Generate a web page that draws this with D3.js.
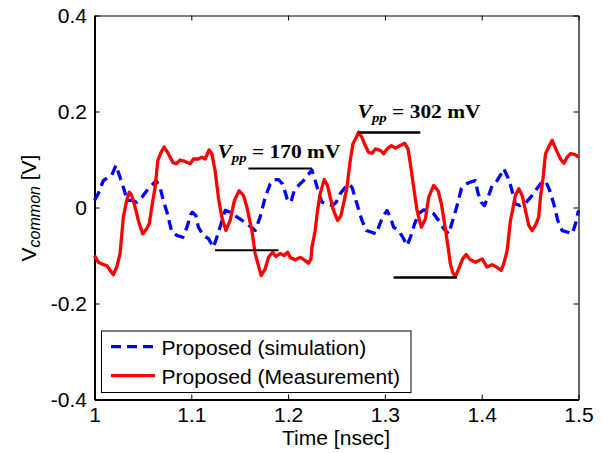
<!DOCTYPE html>
<html>
<head>
<meta charset="utf-8">
<script src="https://cdn.jsdelivr.net/npm/d3@7"></script>
<style>
  body { margin: 0; background: #fff; }
  svg { display: block; }
</style>
</head>
<body>
<svg id="chart" width="603" height="453"></svg>
<script>
// Common-mode voltage, simulated waveform (time in ns, voltage in V)
const simTime = [1.0000,1.0039,1.0091,1.0143,1.0178,1.0222,1.0264,1.0298,1.0339,1.0385,
  1.0436,1.0488,1.0540,1.0592,1.0636,1.0677,1.0711,1.0753,1.0798,1.0850,
  1.0912,1.0957,1.0993,1.1011,1.1047,1.1073,1.1125,1.1177,1.1229,1.1264,
  1.1308,1.1350,1.1401,1.1453,1.1505,1.1574,1.1618,1.1660,1.1711,1.1763,
  1.1815,1.1859,1.1901,1.1942,1.1965,1.1994,1.2029,1.2063,1.2108,1.2159,
  1.2201,1.2246,1.2280,1.2325,1.2350,1.2401,1.2453,1.2497,1.2539,1.2591,
  1.2625,1.2660,1.2711,1.2763,1.2808,1.2856,1.2911,1.2935,1.2976,1.3022,
  1.3056,1.3090,1.3142,1.3193,1.3229,1.3263,1.3307,1.3348,1.3400,1.3452,
  1.3504,1.3555,1.3607,1.3659,1.3700,1.3746,1.3790,1.3831,1.3883,1.3935,
  1.3959,1.3994,1.4028,1.4072,1.4108,1.4159,1.4201,1.4228,1.4269,1.4304,
  1.4348,1.4393,1.4452,1.4504,1.4555,1.4607,1.4659,1.4703,1.4744,1.4786,
  1.4831,1.4883,1.4935,1.4969,1.5000];
const simVolt = [0.015,0.029,0.056,0.063,0.067,0.088,0.063,0.042,0.015,0.015,
  0.011,0.021,0.035,0.046,0.056,0.042,0.015,-0.013,-0.051,-0.058,
  -0.062,-0.040,-0.015,-0.010,-0.017,-0.041,-0.058,-0.065,-0.083,-0.062,
  -0.034,-0.006,-0.010,-0.017,-0.024,-0.034,-0.041,-0.048,-0.020,0.021,
  0.049,0.058,0.058,0.049,0.035,0.015,0.011,0.035,0.046,0.056,
  0.067,0.078,0.056,0.025,0.011,0.008,0.004,0.011,0.029,0.042,
  0.049,0.042,0.008,-0.027,-0.048,-0.051,-0.055,-0.041,-0.020,-0.006,
  -0.020,-0.041,-0.048,-0.065,-0.079,-0.062,-0.034,-0.013,-0.005,-0.006,
  -0.013,-0.027,-0.044,-0.055,-0.027,0.004,0.039,0.048,0.053,0.056,
  0.032,0.011,0.004,0.025,0.046,0.056,0.070,0.081,0.063,0.042,
  0.008,0.004,0.009,0.021,0.035,0.049,0.056,0.035,0.008,-0.027,
  -0.048,-0.051,-0.055,-0.034,-0.006];

// Common-mode voltage, measured waveform
const measTime = [1.0000,1.0039,1.0091,1.0126,1.0194,1.0230,1.0264,1.0298,1.0333,1.0360,
  1.0385,1.0419,1.0453,1.0498,1.0540,1.0567,1.0592,1.0626,1.0654,1.0688,
  1.0719,1.0763,1.0809,1.0843,1.0884,1.0936,1.0988,1.1022,1.1073,1.1109,
  1.1143,1.1184,1.1212,1.1246,1.1280,1.1315,1.1357,1.1401,1.1446,1.1494,
  1.1539,1.1574,1.1626,1.1660,1.1688,1.1722,1.1763,1.1797,1.1839,1.1874,
  1.1918,1.1960,1.1994,1.2022,1.2073,1.2125,1.2166,1.2211,1.2236,1.2246,
  1.2280,1.2304,1.2332,1.2373,1.2407,1.2435,1.2469,1.2511,1.2546,1.2573,
  1.2608,1.2642,1.2670,1.2704,1.2728,1.2763,1.2797,1.2831,1.2867,1.2901,
  1.2952,1.2987,1.3022,1.3066,1.3108,1.3159,1.3204,1.3239,1.3263,1.3297,
  1.3332,1.3376,1.3418,1.3452,1.3504,1.3549,1.3583,1.3617,1.3653,1.3676,
  1.3700,1.3728,1.3762,1.3803,1.3839,1.3883,1.3935,1.4004,1.4056,1.4108,
  1.4152,1.4201,1.4228,1.4263,1.4297,1.4325,1.4348,1.4383,1.4418,1.4452,
  1.4486,1.4521,1.4555,1.4589,1.4607,1.4635,1.4659,1.4693,1.4728,1.4772,
  1.4814,1.4848,1.4883,1.4917,1.4969,1.5000];
const measVolt = [-0.100,-0.114,-0.119,-0.121,-0.140,-0.124,-0.096,-0.020,0.015,0.032,
  0.025,0.001,-0.027,-0.055,-0.044,-0.033,0.001,0.042,0.098,0.115,
  0.126,0.112,0.094,0.091,0.099,0.096,0.091,0.101,0.101,0.105,
  0.101,0.120,0.112,0.077,0.021,-0.020,-0.048,-0.027,0.015,0.035,
  0.025,0.001,-0.048,-0.096,-0.117,-0.142,-0.128,-0.104,-0.093,-0.102,
  -0.096,-0.100,-0.093,-0.104,-0.109,-0.104,-0.109,-0.116,-0.107,-0.083,
  -0.048,-0.006,0.029,0.058,0.046,0.021,-0.006,-0.027,-0.017,0.008,
  0.042,0.098,0.133,0.146,0.157,0.146,0.129,0.115,0.113,0.122,
  0.119,0.112,0.122,0.129,0.124,0.129,0.134,0.122,0.091,0.042,
  -0.006,-0.041,-0.024,0.021,0.046,0.035,0.008,-0.034,-0.083,-0.117,
  -0.135,-0.144,-0.128,-0.107,-0.098,-0.109,-0.114,-0.107,-0.124,-0.119,
  -0.124,-0.131,-0.117,-0.090,-0.027,0.001,0.025,0.039,0.025,-0.006,
  -0.037,-0.048,-0.037,-0.020,0.021,0.063,0.112,0.126,0.140,0.119,
  0.101,0.092,0.105,0.112,0.110,0.105];

const seriesNames = ["Proposed (simulation)", "Proposed (Measurement)"];
const xTickValues = [1, 1.1, 1.2, 1.3, 1.4, 1.5];
const xTickLabels = ["1", "1.1", "1.2", "1.3", "1.4", "1.5"];
const yTickValues = [-0.4, -0.2, 0, 0.2, 0.4];
const yTickLabels = ["-0.4", "-0.2", "0", "0.2", "0.4"];

// Peak-to-peak markers (mV) and the level of the upper marker (V)
const vppValues = [170, 302];
const vppUpper = [0.081, 0.156];
const vppUpperSpan = [[1.159, 1.2246], [1.2728, 1.3366]];
const vppLowerSpan = [[1.1246, 1.1901], [1.309, 1.3746]];
const vppLabelAt = [[1.127, 0.1035], [1.2718, 0.186]];

const svg = d3.select("#chart");
const L = 94.5, R = 578.5, T = 15.5, B = 399.5;
const SX = 1.08;           // slight horizontal stretch of sans text
const sans = "'Liberation Sans', Arial, Helvetica, sans-serif";
const serif = "'Liberation Serif', 'Times New Roman', serif";

const x = d3.scaleLinear().domain([1, 1.5]).range([L, R]);
const y = d3.scaleLinear().domain([-0.4, 0.4]).range([B, T]);

// Axes with inward ticks on all four sides
const gBottom = svg.append("g").attr("transform", `translate(0,${B})`)
  .call(d3.axisBottom(x).tickValues(xTickValues)
    .tickFormat((d, i) => xTickLabels[i]).tickSizeInner(-5).tickSizeOuter(0));
const gLeft = svg.append("g").attr("transform", `translate(${L},0)`)
  .call(d3.axisLeft(y).tickValues(yTickValues)
    .tickFormat((d, i) => yTickLabels[i]).tickSizeInner(-5).tickSizeOuter(0).tickPadding(7));
const gTop = svg.append("g").attr("transform", `translate(0,${T})`)
  .call(d3.axisTop(x).tickValues(xTickValues).tickFormat("").tickSizeInner(-5).tickSizeOuter(0));
const gRight = svg.append("g").attr("transform", `translate(${R},0)`)
  .call(d3.axisRight(y).tickValues(yTickValues).tickFormat("").tickSizeInner(-5).tickSizeOuter(0));

[gBottom, gLeft, gTop, gRight].forEach(g => {
  g.selectAll("line").attr("stroke", "#000").attr("stroke-width", 1);
  g.select(".domain").attr("stroke", "#000");
});
gBottom.select(".domain").attr("stroke-width", 2);
gLeft.select(".domain").attr("stroke-width", 2);
gTop.select(".domain").attr("stroke-width", 1);
gRight.select(".domain").attr("stroke-width", 1.2);

gBottom.selectAll("text")
  .attr("font-family", sans).attr("font-size", 19.5).attr("fill", "#000")
  .attr("y", 23).attr("dy", null)
  .attr("transform", `scale(${SX},1)`);
gLeft.selectAll("text")
  .attr("font-family", sans).attr("font-size", 19.5).attr("fill", "#000")
  .attr("dy", "0.36em")
  .attr("transform", `scale(${SX},1)`);

// Waveforms
const line = d3.line().x(d => x(d[0])).y(d => y(d[1]));
const simData = d3.zip(simTime, simVolt);
const measData = d3.zip(measTime, measVolt);

svg.append("path").datum(simData)
  .attr("d", line).attr("fill", "none")
  .attr("stroke", "#0000ff").attr("stroke-width", 3.3)
  .attr("stroke-dasharray", "10,6").attr("stroke-linejoin", "round");
svg.append("path").datum(measData)
  .attr("d", line).attr("fill", "none")
  .attr("stroke", "#ff0000").attr("stroke-width", 3.3)
  .attr("stroke-linejoin", "round");

// Peak-to-peak markers and labels
vppValues.forEach((mv, i) => {
  const hi = vppUpper[i], lo = hi - mv / 1000;
  const w = i === 0 ? 2 : 2.5;
  svg.append("line")
    .attr("x1", x(vppUpperSpan[i][0])).attr("x2", x(vppUpperSpan[i][1]))
    .attr("y1", y(hi)).attr("y2", y(hi))
    .attr("stroke", "#000").attr("stroke-width", w);
  svg.append("line")
    .attr("x1", x(vppLowerSpan[i][0])).attr("x2", x(vppLowerSpan[i][1]))
    .attr("y1", y(lo)).attr("y2", y(lo))
    .attr("stroke", "#000").attr("stroke-width", w);
  const t = svg.append("text")
    .attr("transform", `translate(${x(vppLabelAt[i][0])},${y(vppLabelAt[i][1])}) scale(1.1,1)`)
    .attr("font-family", serif).attr("font-weight", "bold")
    .attr("font-size", 19.5).attr("fill", "#000");
  t.append("tspan").attr("font-style", "italic").text("V");
  t.append("tspan").attr("font-style", "italic").attr("font-size", 13.5).attr("dy", 4).text("pp");
  t.append("tspan").attr("dy", -4).text(` = ${mv} mV`);
});

// Legend
const lg = svg.append("g");
lg.append("rect").attr("x", 101.5).attr("y", 331).attr("width", 309.5).attr("height", 61.5)
  .attr("fill", "#fff").attr("stroke", "#000").attr("stroke-width", 1);
const legendY = [346.7, 375.7];
const legendStyle = [
  { color: "#0000ff", dash: "10,6" },
  { color: "#ff0000", dash: null }
];
seriesNames.forEach((name, i) => {
  lg.append("line").attr("x1", 111).attr("x2", 155)
    .attr("y1", legendY[i]).attr("y2", legendY[i])
    .attr("stroke", legendStyle[i].color).attr("stroke-width", 3.3)
    .attr("stroke-dasharray", legendStyle[i].dash);
  lg.append("text")
    .attr("transform", `translate(161.5,${legendY[i] + 8.5}) scale(${SX},1)`)
    .attr("font-family", sans).attr("font-size", 19.5).attr("fill", "#000")
    .text(name);
});

// Axis titles
svg.append("text")
  .attr("transform", `translate(${(L + R) / 2 - 0.5},445) scale(${SX},1)`)
  .attr("text-anchor", "middle")
  .attr("font-family", sans).attr("font-size", 19.5).attr("fill", "#000")
  .text("Time [nsec]");

const yl = svg.append("text")
  .attr("transform", "translate(36,208) rotate(-90)")
  .attr("text-anchor", "middle")
  .attr("font-family", sans).attr("font-size", 21).attr("fill", "#000");
yl.append("tspan").text("V");
yl.append("tspan").attr("font-style", "italic").attr("font-size", 16).attr("dy", 4).text("common");
yl.append("tspan").attr("dy", -4).text(" [V]");
</script>
</body>
</html>
